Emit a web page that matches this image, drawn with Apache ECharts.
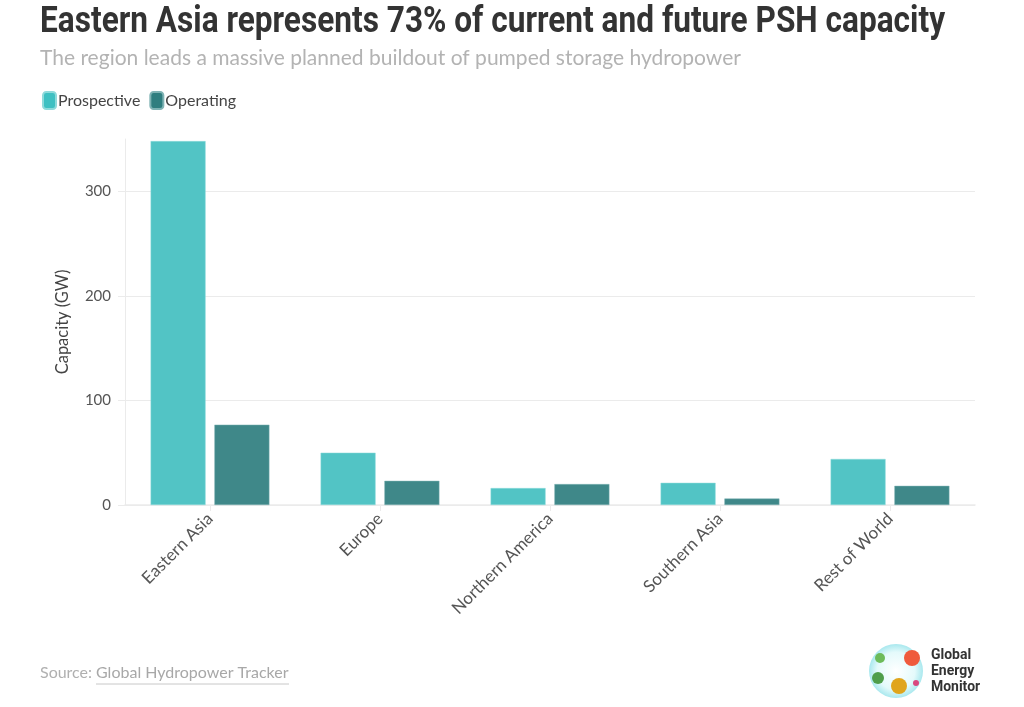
<!DOCTYPE html>
<html>
<head>
<meta charset="utf-8">
<script src="https://cdn.jsdelivr.net/npm/echarts@6/dist/echarts.min.js"></script>
<style>
  html, body { margin: 0; padding: 0; background: #fff; }
  #chart { width: 1024px; height: 707px; }
</style>
</head>
<body>
<div id="chart"></div>
<script>
const regions = ['Eastern Asia', 'Europe', 'Northern America', 'Southern Asia', 'Rest of World']
const prospective = [348, 50, 16.2, 21.2, 44]
const operating = [76.8, 23.1, 20, 6.2, 18.3]
const yTicks = [0, 100, 200, 300]

const PROSPECTIVE_COLOR = '#52c4c5'
const OPERATING_COLOR = '#3f8889'
const GRID_COLOR = '#ebebeb'

let chart = echarts.init(document.getElementById('chart'))

let option = {
  animation: false,
  title: {
    text: 'The region leads a massive planned buildout of pumped storage hydropower',
    left: 35,
    top: 43,
    textStyle: {
      fontFamily: 'Lato',
      fontWeight: 'normal',
      fontSize: 21,
      color: '#b3b3b3'
    }
  },
  legend: {
    left: 37,
    top: 86,
    itemWidth: 13,
    itemHeight: 17,
    itemGap: 9,
    icon: 'roundRect',
    textStyle: {
      fontFamily: 'Lato',
      fontSize: 16,
      color: '#444',
      padding: [0, 0, 0, -3]
    },
    data: [
      { name: 'Prospective', itemStyle: { color: '#3fc0c2' } },
      { name: 'Operating', itemStyle: { color: '#2f7e7f' } }
    ]
  },
  grid: {
    left: 125,
    right: 49,
    top: 139,
    bottom: 202
  },
  xAxis: {
    type: 'category',
    data: regions,
    axisLine: { lineStyle: { color: GRID_COLOR, width: 1.5 } },
    axisTick: {
      show: true,
      alignWithLabel: true,
      length: 6,
      lineStyle: { color: GRID_COLOR }
    },
    axisLabel: {
      rotate: 45,
      margin: 11,
      fontFamily: 'Lato',
      fontSize: 17,
      color: '#555'
    }
  },
  yAxis: {
    type: 'value',
    min: 0,
    max: 350,
    interval: 100,
    name: 'Capacity (GW)',
    nameLocation: 'middle',
    nameGap: 54,
    nameTextStyle: {
      fontFamily: 'Lato',
      fontSize: 16.5,
      color: '#444'
    },
    axisLine: { show: true, lineStyle: { color: GRID_COLOR } },
    axisTick: {
      show: true,
      length: 7,
      lineStyle: { color: GRID_COLOR }
    },
    axisLabel: {
      showMaxLabel: false,
      margin: 14,
      fontFamily: 'Lato',
      fontSize: 15,
      color: '#555',
      formatter: v => (yTicks.includes(v) ? String(v) : '')
    },
    splitLine: {
      show: true,
      showMaxLine: false,
      lineStyle: { color: GRID_COLOR }
    }
  },
  series: [
    {
      name: 'Prospective',
      type: 'bar',
      data: prospective,
      barWidth: 55,
      barGap: '16%',
      itemStyle: { color: PROSPECTIVE_COLOR, borderColor: '#8fdadb', borderWidth: 0.5 }
    },
    {
      name: 'Operating',
      type: 'bar',
      data: operating,
      barWidth: 55,
      itemStyle: { color: OPERATING_COLOR, borderColor: '#7fb3b4', borderWidth: 0.5 }
    }
  ],
  graphic: [
    {
      // condensed title: Roboto bold squeezed horizontally
      type: 'text',
      x: 40,
      y: 5,
      scaleX: 0.878,
      style: {
        text: 'Eastern Asia represents 73% of current and future PSH capacity',
        font: 'bold 36px Roboto',
        fill: '#333'
      }
    },
    {
      type: 'text',
      left: 40,
      top: 665,
      style: {
        text: 'Source:',
        font: '16px Lato',
        fill: '#b0b0b0'
      }
    },
    {
      type: 'text',
      left: 96,
      top: 665,
      style: {
        text: 'Global Hydropower Tracker',
        font: '16px Lato',
        fill: '#a8a8a8'
      }
    },
    {
      type: 'line',
      shape: { x1: 96, y1: 684, x2: 289, y2: 684 },
      style: { stroke: '#c8c8c8', lineWidth: 1 }
    },
    {
      type: 'circle',
      shape: { cx: 896, cy: 671, r: 27 },
      style: {
        fill: new echarts.graphic.RadialGradient(0.5, 0.5, 0.5, [
          { offset: 0, color: '#ffffff' },
          { offset: 0.7, color: '#e4fafb' },
          { offset: 1, color: '#a9e8ee' }
        ])
      }
    },
    {
      type: 'circle',
      shape: { cx: 912, cy: 658, r: 8 },
      style: { fill: '#ef5a3c' }
    },
    {
      type: 'circle',
      shape: { cx: 899, cy: 686, r: 8 },
      style: { fill: '#e0a51c' }
    },
    {
      type: 'circle',
      shape: { cx: 878, cy: 678, r: 6 },
      style: { fill: '#4f9e4a' }
    },
    {
      type: 'circle',
      shape: { cx: 880, cy: 658, r: 5 },
      style: { fill: '#6dbb5a' }
    },
    {
      type: 'circle',
      shape: { cx: 916, cy: 683, r: 3 },
      style: { fill: '#d9477e' }
    },
    {
      type: 'text',
      x: 931,
      y: 647,
      scaleX: 0.9,
      style: {
        text: 'Global\nEnergy\nMonitor',
        font: 'bold 15.5px Roboto',
        lineHeight: 16,
        fill: '#333'
      }
    }
  ]
}

chart.setOption(option)
</script>
</body>
</html>
